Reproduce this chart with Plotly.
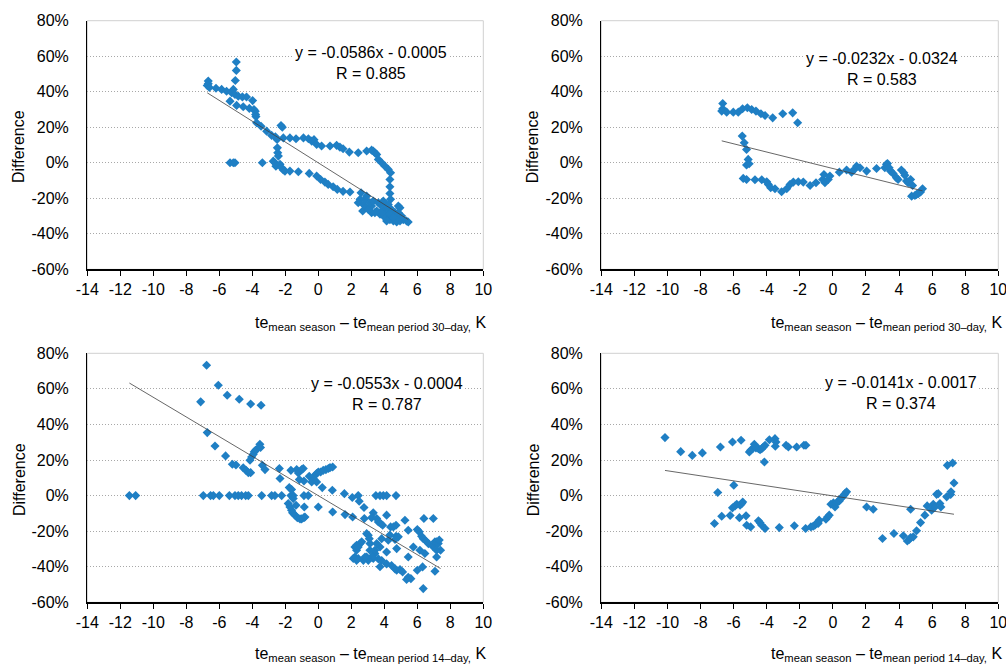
import plotly.graph_objects as go

# ---------------- data ----------------
# top-left: 30-day period, series 1
tl_x = [-6.67, -6.67, -6.73, -6.6, -6.2, -5.86, -5.56, -5.25, -5.15, -5.05, -4.85, -4.6, -4.35,
        -4.97, -4.97, -5.03,
        -5.35, -4.95, -4.55, -4.18, -3.98, -3.9, -3.82, -3.8, -3.78, -3.74, -3.47, -3.13, -2.83, -2.6,
        -2.5, -2.26, -2.18, -2.12, -1.72, -1.35, -0.9, -0.6, -0.4, -0.26, -0.1, 0.2, 0.71, 1.11, 1.31,
        1.5, 1.88, 2.42, 2.93, 3.23, 3.33, 3.43, 3.54, 3.64, 3.84, 4.04, 4.24, 4.38, 4.34, 4.34, 4.34, 4.38,
        -5.35, -5.15, -5.05, -3.39, -2.73, -2.63, -2.57, -2.48, -2.46, -2.42, -2.32, -2.22, -2.12, -2.02,
        -1.72, -1.21, -0.55, -0.1, 0.14, 0.4, 0.6, 0.9, 1.15, 1.5, 1.92,
        2.59, 2.53, 2.42, 2.73, 2.83, 2.93, 2.69, 2.93, 3.23, 3.23, 3.54, 3.74, 3.94, 4.04, 4.14, 4.34,
        4.55, 4.75, 4.95, 5.15, 5.35, 5.45, 4.85, 4.95, 4.65, 4.44, 4.24, 3.94, 3.74, 4.14, 4.44, 4.75,
        4.95, 4.65, 4.34, 3.84, 3.43, 3.03, 3.13, 3.33, 3.64, 3.94, 4.24, 5.05, 4.85, 4.55, 4.14]
tl_y = [46, 44.5, 43.5, 42.4, 42, 41.3, 40.3, 39.4, 41.3, 38.5, 37.5, 37.1, 37,
        56.7, 52, 46.3,
        34.7, 32.3, 31.5, 30.6, 35, 30, 29, 27.2, 26, 22.5, 20.6, 17.8, 15.4, 14.6,
        13.1, 21, 20, 14, 14, 13.5, 14, 13.5, 12.2, 13, 10.3, 9.4, 9.4, 9.8, 8.8,
        7.9, 6, 5.6, 6.6, 7.1, 6.6, 5.6, 4.7, 1.9, 0, -1.9, -3.75, -5.6, -9.4, -13.5, -17.3, -20.6,
        0, 0, 0, 0, 0.9, 0, -1.9, 8.4, 5.6, 3.75, -0.9, -2.8, -4.1, -4.7,
        -4.7, -5.1, -6, -7.5, -9.4, -10.9, -12.2, -13.5, -15, -16.1, -16.5,
        -16.9, -20.6, -22.5, -23.5, -20.6, -18.8, -27.2, -25.3, -24.4, -28.1, -27.2, -23.5, -26.3, -29, -31, -32,
        -32.8, -33.4, -32.8, -32, -32.8, -33.4, -24.4, -25.3, -28.1, -26.3, -28.1, -30, -29, -24.4, -30, -30,
        -31, -32, -29, -28.1, -28.1, -26.3, -22.5, -21.6, -22.5, -21.6, -23.5, -30, -28.1, -31, -32.8]

# top-right: 30-day period, series 2
tr_x = [-6.66, -6.66, -6.72, -6.42, -6.02, -5.72, -5.46, -5.17, -4.91, -4.65, -4.35, -4.1, -3.64, -3.03,
        -2.43, -2.13,
        -5.48, -5.36, -5.22, -5.22, -5.12, -5.06,
        -5.42, -5.22, -4.71, -4.3, -4.0, -3.9, -3.76, -3.5, -3.1, -2.79, -2.59, -2.39, -2.09, -1.79, -1.38,
        -1.02, -0.62, -0.54, -0.48, -0.28, -0.18, 0.39, 0.83, 1.13, 1.27, 1.43, 1.64, 2.04, 2.64,
        3.14, 3.24, 3.3, 3.4, 3.48, 3.64, 3.84, 3.94, 4.14, 4.29, 4.35,
        4.45, 4.7, 4.82, 4.76, 4.96, 5.16, 5.3, 5.42, 4.55, 5.06]
tr_y = [33.4, 30.4, 29.1, 28.5, 28.5, 28.5, 30.4, 31, 30, 29.1, 27.6, 26.6, 25.3, 27.6,
        28.1, 22.5,
        15, 11.3, 7.5, -1.3, 1.9, -0.6,
        -8.8, -9.4, -9.6, -9.6, -10.7, -12.2, -14.1, -14.6, -16.3, -14.6, -12.2, -10.9, -10.7, -10.9, -12.8,
        -11.3, -9.4, -6.6, -11.3, -9.4, -7.5, -5.3, -4.1, -5.3, -4.1, -1.9, -2.8, -4.7, -3.2,
        -2.8, -0.9, -0.4, -2.8, -4.7, -6, -8.4, -9.4, -4.1, -5.6, -7.1,
        -10.3, -9.4, -12.8, -18.8, -18.4, -17.4, -16.5, -14.6, -11.3, -17.8]

# bottom-left: 14-day period, series 1
bl_x = [-11.45, -11.07, -7.13, -6.77, -6.73, -6.26, -6.06, -5.62, -5.52, -5.21, -4.99, -4.79,
        -4.55, -4.38, -4.24, -4.1, -4.1, -4.14, -4.04, -3.94, -3.88, -3.8, -3.74, -3.47, -3.54, -3.5,
        -3.39, -3.23,
        -6.97, -6.53, -6.36, -6.0, -5.39, -5.05, -4.85, -4.65, -4.4, -4.24, -3.43, -2.83, -2.63, -2.22,
        -1.66, -1.52, -0.87, -0.61, 3.49, 3.74, 3.94, 4.14, 4.71, 2.42, 1.58,
        -2.36, -2.32, -1.66, -1.31, -1.21, -1.01, -0.91, -1.15, -0.87, -0.55, -0.26, -0.1, 0.0, 0.14,
        0.3, 0.46, 0.61, 0.71, 0.87, -0.4, -0.1, 0.24, 0.85, -1.76, -1.62,
        -1.82, -1.72, -1.62, -1.56, -1.41, -1.27, -1.11, -1.01, -0.87, -0.81, -1.52, -1.35, -0.85, 0.0,
        0.87, 1.62, 2.08, 2.06, 2.48, 2.77, 2.79, 3.33, 3.23, 3.54, 3.64, 3.78, 3.9, 4.14, 4.38, 4.71,
        5.25, 5.45, 6.0, 6.12, 6.26, 6.36, 6.53, 6.67, 6.93, 7.07, 6.4, 6.97, 7.17, 7.27, 7.33, 7.41,
        7.17, 7.17, 7.07, 6.36, 6.32, 6.0, 6.16, 6.46, 5.76, 5.45, 5.61, 5.45, 5.35, 5.11, 4.95, 4.75,
        4.65, 4.44, 4.14, 3.84, 3.64, 4.71, 4.85, 4.65, 4.75, 4.34, 4.55, 4.24, 4.14, 3.74, 3.84, 3.54,
        3.43, 3.33, 3.23, 3.13, 3.13, 3.03, 2.93, 3.09, 3.43, 3.74, 3.03, 2.93, 2.73, 2.42, 2.22, 2.32,
        2.22, 2.32, 2.53, 2.63, 2.42, 2.83, 2.12, 2.32]
bl_y = [0, 0, 52.7, 73.3, 35.4, 27.9, 62, 22.3, 56.4, 17.6, 17.2, 54.2,
        15.6, 14.2, 12.9, 12.9, 51.5, 19.9, 21.7, 23.2, 24.6, 25.5, 25.9, 50.8, 28.9, 27,
        17, 14.6,
        0, 0, 0, 0, 0, 0, 0, 0, 0, 0, 0, 0, 0, 0,
        0, 0, 0, 0, 0, 0, 0, 0, 0, 0, 1.1,
        15.2, 9.6, 14.2, 14.6, 12.7, 14.6, 15.2, 9, 8.2, 10.9, 10.9, 12.4, 13.3, 13.3,
        14.2, 14.6, 15.2, 15.7, 16.1, 7.7, 7.7, 4.5, 3, 4.5, 3.4,
        -4.5, -6.4, -8.2, -9.7, -11, -12.4, -13.1, -13.1, -12.4, -12, -1.7, -5.4, -6.4, -6.4,
        -9.2, -10.7, -12, -1.1, -3.2, -6.7, -12.9, -9.7, -12.4, -12.9, -14.8, -15.7, -16.7, -11, -17.6, -16.7,
        -13.9, -19.5, -19.1, -20.4, -22.9, -24.2, -25.5, -27, -28.5, -26, -12.9, -12.9, -26, -27, -25, -30.7,
        -30.7, -34.5, -42.5, -52.3, -40.1, -42, -30.7, -32.6, -28.9, -34.5, -46.7, -45.9, -47.2, -42.9, -41.6, -42,
        -41.2, -39.3, -38.4, -36.5, -35.6, -22.9, -23.2, -24.7, -29.8, -22.2, -17.6, -25.1, -31.7, -28.9, -24.2, -27,
        -32.6, -35.4, -34.5, -30.7, -27, -22.3, -21.4, -24.2, -30.7, -40, -36.4, -34.5, -36.4, -35.4, -34.5, -30.7,
        -28.9, -27.9, -27, -26, -28.9, -34.5, -35.4, -36.4]

# bottom-right: 14-day period, series 2
br_x = [-10.15, -9.2, -8.5, -7.89, -6.8, -6.07, -5.55, -5.05, -4.97, -4.85, -4.75, -4.65, -4.5, -4.4,
        -4.3, -4.2, -4.1, -4.14, -3.84, -3.5, -3.44, -3.48, -2.83, -2.69, -2.19, -1.75, -1.63,
        -6.96, -5.99, -7.16, -6.72, -6.21, -6.07, -5.91, -5.81, -5.61, -5.51, -5.45, -5.65, -5.25, -5.21,
        -4.97, -4.5, -4.4, -4.3, -4.1, -3.24, -2.33, -1.65, -1.33, -1.19, -1.09, -0.99, -0.89, -0.83,
        -0.89, -0.42, -0.32, -0.22, -0.12, 0.03, 0.13, 0.19, 0.27, 0.39, 0.47, 0.59, 0.67, 0.73, 0.83,
        2.04, 2.44, 3.0, 3.69, 4.26, 4.5, 4.62, 4.7, 4.86, 4.7, 5.06, 5.3, 5.56, 5.7, 5.97, 6.07, 6.17,
        6.27, 6.37, 6.47, 6.53, 6.88, 7.12, 7.14, 6.92, 7.24, 7.32]
br_y = [32.6, 24.7, 22.6, 24, 27.3, 30.1, 31.1, 24.5, 25.5, 26.4, 28.8, 26.8, 26.4, 25.8,
        26.4, 27.3, 28.3, 18.9, 31.4, 32, 30.1, 27.7, 28.3, 27.3, 27.3, 28.3, 28.3,
        1.7, 5.8, -15.7, -11.6, -11.2, -6.9, -5.8, -4.9, -5.4, -4.5, -3.6, -12.4, -11.4, -16.7,
        -17.6, -14.2, -15.3, -16.7, -18.5, -18, -17, -18.5, -17.6, -17.2, -16.7, -15.7, -14.8, -13.8,
        -15.7, -13.3, -12, -11, -4.9, -4.1, -6.4, -4.5, -3.6, -3, -1.7, -0.7, 0.2, 1.1, 2.1,
        -6.4, -7.7, -24.1, -21.3, -22.6, -25.5, -24.7, -23.6, -23.2, -7.7, -19.8, -15.2, -11, -5.8, -8.2, -4.9, -6.4,
        0.7, 1.1, -4.5, -6.4, -0.7, 0.6, 2.1, 17, 18.3, 7.1]

# trendline equations (fraction per K) and labels
slopes = [-0.0586, -0.0232, -0.0553, -0.0141]
intercepts = [-0.0005, -0.0324, -0.0004, -0.0017]
r_values = [0.885, 0.583, 0.787, 0.374]
periods = ["30\u2013day", "30\u2013day", "14\u2013day", "14\u2013day"]

x_tick_vals = [-14, -12, -10, -8, -6, -4, -2, 0, 2, 4, 6, 8, 10]
x_tick_text = ["-14", "-12", "-10", "-8", "-6", "-4", "-2", "0", "2", "4", "6", "8", "10"]
y_tick_vals = [-60, -40, -20, 0, 20, 40, 60, 80]
y_tick_text = ["-60%", "-40%", "-20%", "0%", "20%", "40%", "60%", "80%"]

# ---------------- layout geometry ----------------
W, H = 1006, 664
FONT = "Liberation Sans, Arial, sans-serif"
BLUE = "#1f7fc4"

# plot areas in pixels: (left, right, top, bottom)
areas = [(87.3, 483.3, 20.7, 269.3), (601.3, 998.3, 20.7, 269.3),
         (87.3, 483.3, 353.3, 602.3), (601.3, 998.3, 353.3, 602.3)]
eq_pos = [(370.5, 63), (882, 69), (387.3, 394.5), (901.2, 392.8)]
ytitle_pos = [(19, 147), (533.3, 147), (19, 480), (533.3, 480)]
xtitle_pos = [(488, 323), (1004, 323), (488, 654), (1004, 654)]

series = [(tl_x, tl_y), (tr_x, tr_y), (bl_x, bl_y), (br_x, br_y)]

fig = go.Figure()
layout = dict(template="none", width=W, height=H,
              margin=dict(l=0, r=0, t=0, b=0, pad=0, autoexpand=False),
              paper_bgcolor="white", plot_bgcolor="white", showlegend=False,
              font=dict(family=FONT, size=16, color="black"))
annotations = []
shapes = []

for i, ((xs, ys), (l, r, t, b)) in enumerate(zip(series, areas)):
    n = "" if i == 0 else str(i + 1)
    xa, ya = "x" + n, "y" + n
    fig.add_trace(go.Scatter(x=xs, y=ys, mode="markers", xaxis=xa, yaxis=ya,
                             marker=dict(symbol="diamond", size=7, color=BLUE, line=dict(width=0)),
                             hoverinfo="skip"))
    x0, x1 = min(xs), max(xs)
    fig.add_trace(go.Scatter(x=[x0, x1],
                             y=[100 * (slopes[i] * x0 + intercepts[i]), 100 * (slopes[i] * x1 + intercepts[i])],
                             mode="lines", xaxis=xa, yaxis=ya,
                             line=dict(color="#404040", width=0.8), hoverinfo="skip"))
    layout["xaxis" + n] = dict(domain=[l / W, r / W], anchor=ya, range=[-14, 10], automargin=False,
                               tickmode="array", tickvals=x_tick_vals, ticktext=x_tick_text,
                               ticklabeloverflow="allow",
                               showgrid=False, zeroline=False, showline=True, linecolor="black",
                               linewidth=1.3, ticks="outside", ticklen=5, tickcolor="black",
                               tickwidth=1, tickfont=dict(size=16), fixedrange=True)
    layout["yaxis" + n] = dict(domain=[1 - b / H, 1 - t / H], anchor=xa, range=[-60, 80], automargin=False,
                               tickmode="array", tickvals=y_tick_vals, ticktext=y_tick_text,
                               ticklabeloverflow="allow",
                               showgrid=True, gridcolor="#a8a8a8", griddash="1px,2px", gridwidth=1,
                               zeroline=False, showline=True, linecolor="black", linewidth=1.3,
                               ticks="", ticklabelstandoff=14, tickfont=dict(size=16), fixedrange=True)
    shapes.append(dict(type="rect", xref="paper", yref="paper", x0=l / W, x1=r / W,
                       y0=1 - b / H, y1=1 - t / H, line=dict(color="#d0d0d0", width=1),
                       layer="below"))
    ex, ey = eq_pos[i]
    annotations.append(dict(xref="paper", yref="paper", x=ex / W, y=1 - ey / H,
                            xanchor="center", yanchor="middle", showarrow=False,
                            text=f"y = {slopes[i]:.4f}x - {abs(intercepts[i]):.4f}<br>R = {r_values[i]:.3f}",
                            align="center", bgcolor="white", font=dict(size=16, family=FONT)))
    tx, ty = ytitle_pos[i]
    annotations.append(dict(xref="paper", yref="paper", x=tx / W, y=1 - ty / H,
                            xanchor="center", yanchor="middle", showarrow=False, textangle=-90,
                            text="Difference", font=dict(size=16, family=FONT)))
    qx, qy = xtitle_pos[i]
    annotations.append(dict(xref="paper", yref="paper", x=qx / W, y=1 - qy / H,
                            xanchor="right", yanchor="middle", showarrow=False,
                            text=f"te<sub>mean season</sub> \u2013 te<sub>mean period {periods[i]},</sub> K",
                            font=dict(size=16, family=FONT)))

layout["annotations"] = annotations
layout["shapes"] = shapes
fig.update_layout(**layout)
fig.write_html("out.html", config={"displayModeBar": False, "staticPlot": True},
               post_script="document.body.style.margin='0';document.body.style.overflow='hidden';")
